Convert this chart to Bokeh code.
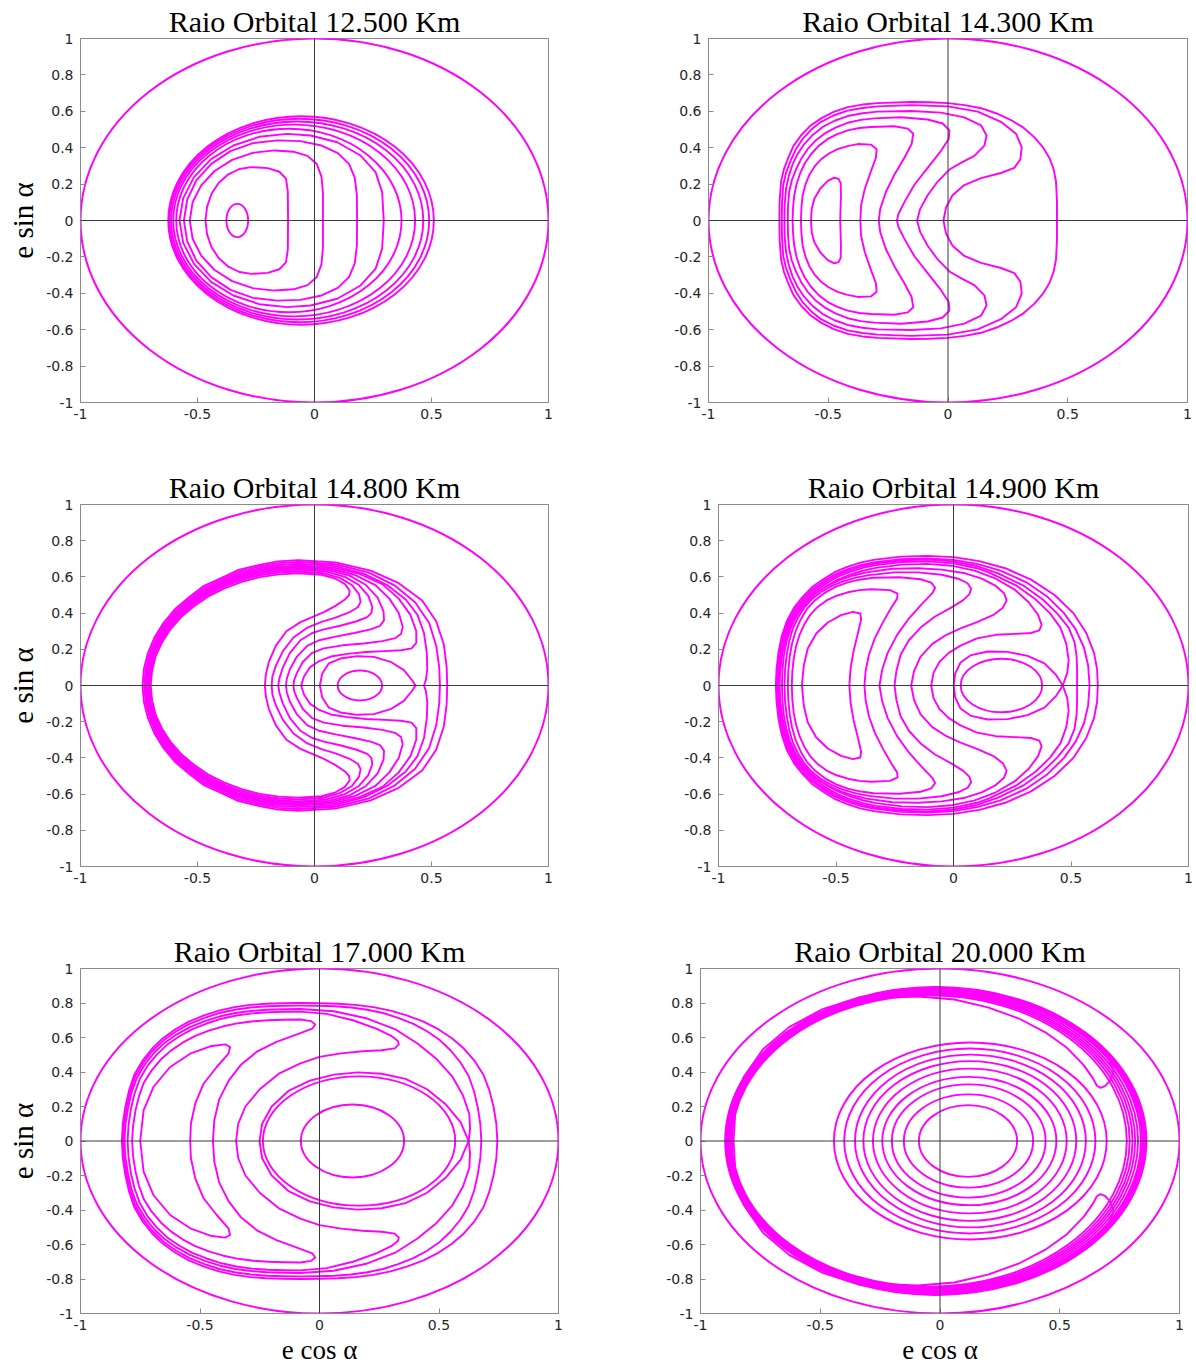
from bokeh.plotting import figure
from bokeh.layouts import column, row
from bokeh.models import Range1d, FixedTicker, Span
from bokeh.embed import file_html
from bokeh.resources import INLINE

# ---------------------------------------------------------------- texts / ticks
TITLES = ["Raio Orbital 12.500 Km", "Raio Orbital 14.300 Km",
          "Raio Orbital 14.800 Km", "Raio Orbital 14.900 Km",
          "Raio Orbital 17.000 Km", "Raio Orbital 20.000 Km"]
X_LABEL = "e cos \u03b1"
Y_LABEL = "e sin \u03b1"
X_TICKS = [-1, -0.5, 0, 0.5, 1]
X_TICK_LABELS = ["-1", "-0.5", "0", "0.5", "1"]
Y_TICKS = [-1, -0.8, -0.6, -0.4, -0.2, 0, 0.2, 0.4, 0.6, 0.8, 1]
Y_TICK_LABELS = ["-1", "-0.8", "-0.6", "-0.4", "-0.2", "0", "0.2", "0.4", "0.6", "0.8", "1"]

# boundary e = 1 (centre x, width, height)
BOUND_CX, BOUND_W, BOUND_H = [0.0], [2.0], [2.0]

# Each curve: upper half (e sin a >= 0), from the left
# crossing of e sin a = 0 to the right one; the curves are symmetric in e sin a.

# ---------------------------------------------------------------- 12.500 Km
P1_ELL_CX = [-0.33, -0.1095, -0.087, -0.074, -0.065, -0.0575]
P1_ELL_W = [0.093, 0.963, 1.034, 1.078, 1.110, 1.135]
P1_ELL_H = [0.183, 1.008, 1.054, 1.088, 1.118, 1.146]
P1_C2 = [(-0.466, 0.0), (-0.459, 0.076), (-0.44, 0.147), (-0.409, 0.207), (-0.368, 0.254),
         (-0.321, 0.283), (-0.27, 0.293), (-0.20, 0.288), (-0.15, 0.268), (-0.122, 0.23),
         (-0.114, 0.16), (-0.113, 0.0)]
P1_C3 = [(-0.533, 0.0), (-0.521, 0.100), (-0.484, 0.193), (-0.427, 0.272), (-0.352, 0.333),
         (-0.264, 0.372), (-0.17, 0.385), (-0.09, 0.378), (-0.03, 0.355), (0.01, 0.31),
         (0.03, 0.24), (0.036, 0.15), (0.036, 0.0)]
P1_C4 = [(-0.558, 0.0), (-0.544, 0.114), (-0.505, 0.22), (-0.441, 0.311), (-0.359, 0.381),
         (-0.263, 0.425), (-0.16, 0.44), (-0.06, 0.436), (0.03, 0.412), (0.10, 0.37),
         (0.148, 0.31), (0.172, 0.235), (0.181, 0.14), (0.182, 0.0)]
P1_C5 = [(-0.577, 0.0), (-0.561, 0.123), (-0.515, 0.238), (-0.442, 0.337), (-0.347, 0.412),
         (-0.236, 0.460), (-0.117, 0.476), (-0.017, 0.467), (0.097, 0.430), (0.197, 0.357),
         (0.261, 0.266), (0.289, 0.156), (0.296, 0.0)]
P1_CURVES = [P1_C2, P1_C3, P1_C4, P1_C5]

# ---------------------------------------------------------------- 14.300 Km
P2_ELL_CX, P2_ELL_W, P2_ELL_H = [], [], []
P2_K1 = [(-0.572, 0.0), (-0.569, 0.064), (-0.558, 0.120), (-0.533, 0.176), (-0.502, 0.218),
         (-0.475, 0.235), (-0.457, 0.229), (-0.448, 0.205), (-0.447, 0.139), (-0.450, 0.0)]
P2_K2 = [(-0.614, 0.0), (-0.612, 0.07), (-0.607, 0.139), (-0.595, 0.198), (-0.579, 0.251),
         (-0.557, 0.297), (-0.530, 0.336), (-0.497, 0.368), (-0.461, 0.392), (-0.42, 0.409),
         (-0.377, 0.420), (-0.322, 0.417), (-0.298, 0.392), (-0.301, 0.345), (-0.322, 0.270),
         (-0.347, 0.176), (-0.363, 0.083), (-0.366, 0.0)]
P2_K3 = [(-0.649, 0.0), (-0.647, 0.07), (-0.642, 0.139), (-0.632, 0.202), (-0.617, 0.261),
         (-0.597, 0.316), (-0.572, 0.364), (-0.54, 0.41), (-0.502, 0.448), (-0.462, 0.475),
         (-0.419, 0.495), (-0.37, 0.508), (-0.322, 0.514), (-0.224, 0.518), (-0.168, 0.505),
         (-0.145, 0.477), (-0.152, 0.420), (-0.182, 0.345), (-0.224, 0.251), (-0.259, 0.158),
         (-0.283, 0.064), (-0.289, 0.0)]
P2_K4 = [(-0.669, 0.0), (-0.668, 0.079), (-0.663, 0.158), (-0.652, 0.221), (-0.635, 0.280),
         (-0.613, 0.339), (-0.586, 0.392), (-0.554, 0.438), (-0.516, 0.477), (-0.47, 0.51),
         (-0.419, 0.537), (-0.364, 0.553), (-0.308, 0.561), (-0.196, 0.567), (-0.085, 0.555),
         (-0.022, 0.533), (0.006, 0.495), (0.003, 0.448), (-0.029, 0.383), (-0.085, 0.289),
         (-0.141, 0.195), (-0.182, 0.101), (-0.207, 0.036), (-0.213, 0.0)]
P2_K5 = [(-0.683, 0.0), (-0.682, 0.088), (-0.676, 0.176), (-0.665, 0.244), (-0.649, 0.308),
         (-0.627, 0.367), (-0.600, 0.420), (-0.565, 0.47), (-0.523, 0.514), (-0.474, 0.548),
         (-0.419, 0.574), (-0.357, 0.589), (-0.294, 0.598), (-0.154, 0.602), (-0.029, 0.593),
         (0.068, 0.567), (0.138, 0.523), (0.161, 0.467), (0.152, 0.411), (0.110, 0.355),
         (0.054, 0.317), (0.006, 0.280), (-0.043, 0.214), (-0.085, 0.139), (-0.116, 0.064),
         (-0.129, 0.0)]
P2_K6 = [(-0.694, 0.0), (-0.693, 0.098), (-0.688, 0.195), (-0.676, 0.263), (-0.658, 0.326),
         (-0.636, 0.39), (-0.607, 0.448), (-0.572, 0.498), (-0.530, 0.542), (-0.478, 0.577),
         (-0.419, 0.604), (-0.357, 0.618), (-0.294, 0.627), (-0.154, 0.634), (-0.001, 0.627),
         (0.124, 0.598), (0.221, 0.542), (0.284, 0.477), (0.308, 0.402), (0.302, 0.336),
         (0.277, 0.289), (0.221, 0.261), (0.138, 0.233), (0.068, 0.195), (0.019, 0.139),
         (-0.008, 0.073), (-0.019, 0.0)]
P2_K7 = [(-0.704, 0.0), (-0.703, 0.107), (-0.697, 0.214), (-0.685, 0.282), (-0.667, 0.345),
         (-0.645, 0.41), (-0.614, 0.467), (-0.576, 0.519), (-0.530, 0.561), (-0.477, 0.597),
         (-0.419, 0.623), (-0.357, 0.637), (-0.294, 0.645), (-0.154, 0.651), (-0.077, 0.65),
         (-0.001, 0.645), (0.07, 0.634), (0.138, 0.617), (0.203, 0.588), (0.263, 0.552),
         (0.315, 0.51), (0.360, 0.458), (0.395, 0.405), (0.423, 0.345), (0.441, 0.282),
         (0.451, 0.214), (0.455, 0.107), (0.455, 0.0)]
P2_CURVES = [P2_K1, P2_K2, P2_K3, P2_K4, P2_K5, P2_K6, P2_K7]

# ---------------------------------------------------------------- 14.800 Km
P3_ELL_CX, P3_ELL_W, P3_ELL_H = [0.194], [0.19], [0.165]
P3_A = [(-0.700, 0.0), (-0.694, 0.081), (-0.679, 0.161), (-0.652, 0.237), (-0.616, 0.310),
        (-0.570, 0.378), (-0.515, 0.438), (-0.454, 0.492), (-0.385, 0.537), (-0.311, 0.573),
        (-0.233, 0.599), (-0.153, 0.614), (-0.07, 0.620), (0.03, 0.612), (0.09, 0.59),
        (0.13, 0.56), (0.15, 0.525), (0.148, 0.500), (0.13, 0.475), (0.09, 0.44),
        (0.04, 0.405), (0.0, 0.383), (-0.06, 0.35), (-0.12, 0.30), (-0.165, 0.22),
        (-0.195, 0.13), (-0.208, 0.06), (-0.212, 0.0)]
P3_B = [(-0.705, 0.0), (-0.699, 0.083), (-0.683, 0.163), (-0.657, 0.241), (-0.620, 0.315),
        (-0.574, 0.384), (-0.519, 0.445), (-0.457, 0.500), (-0.388, 0.546), (-0.313, 0.582),
        (-0.234, 0.609), (-0.153, 0.624), (-0.07, 0.630), (0.04, 0.620), (0.11, 0.593),
        (0.16, 0.555), (0.19, 0.505), (0.197, 0.462), (0.185, 0.432), (0.15, 0.405),
        (0.09, 0.375), (0.03, 0.352), (-0.03, 0.32), (-0.09, 0.265), (-0.135, 0.19),
        (-0.165, 0.11), (-0.18, 0.05), (-0.183, 0.0)]
P3_C = [(-0.708, 0.0), (-0.702, 0.084), (-0.686, 0.166), (-0.660, 0.245), (-0.623, 0.320),
        (-0.576, 0.390), (-0.521, 0.452), (-0.459, 0.508), (-0.389, 0.554), (-0.314, 0.591),
        (-0.235, 0.618), (-0.154, 0.634), (-0.07, 0.640), (0.05, 0.630), (0.13, 0.600),
        (0.19, 0.555), (0.23, 0.495), (0.247, 0.435), (0.243, 0.400), (0.225, 0.378),
        (0.18, 0.355), (0.11, 0.33), (0.04, 0.31), (-0.01, 0.29), (-0.06, 0.25),
        (-0.105, 0.18), (-0.135, 0.10), (-0.150, 0.04), (-0.155, 0.0)]
P3_D = [(-0.711, 0.0), (-0.705, 0.085), (-0.689, 0.168), (-0.662, 0.248), (-0.626, 0.324),
        (-0.578, 0.395), (-0.524, 0.458), (-0.460, 0.514), (-0.390, 0.561), (-0.316, 0.599),
        (-0.236, 0.626), (-0.154, 0.642), (-0.07, 0.648), (0.06, 0.638), (0.15, 0.607),
        (0.22, 0.555), (0.27, 0.485), (0.295, 0.41), (0.297, 0.36), (0.28, 0.33),
        (0.24, 0.31), (0.17, 0.29), (0.09, 0.27), (0.02, 0.25), (-0.03, 0.22),
        (-0.075, 0.16), (-0.105, 0.09), (-0.118, 0.04), (-0.122, 0.0)]
P3_E = [(-0.714, 0.0), (-0.708, 0.086), (-0.692, 0.170), (-0.665, 0.251), (-0.628, 0.328),
        (-0.581, 0.399), (-0.526, 0.463), (-0.462, 0.519), (-0.392, 0.567), (-0.317, 0.605),
        (-0.236, 0.633), (-0.154, 0.649), (-0.07, 0.655), (0.07, 0.645), (0.17, 0.612),
        (0.26, 0.555), (0.32, 0.48), (0.36, 0.40), (0.377, 0.325), (0.37, 0.285),
        (0.345, 0.262), (0.29, 0.245), (0.21, 0.232), (0.12, 0.222), (0.04, 0.205),
        (-0.01, 0.18), (-0.05, 0.13), (-0.075, 0.07), (-0.087, 0.03), (-0.090, 0.0)]
P3_F = [(-0.717, 0.0), (-0.711, 0.087), (-0.695, 0.171), (-0.668, 0.254), (-0.631, 0.331),
        (-0.583, 0.403), (-0.528, 0.468), (-0.464, 0.525), (-0.393, 0.573), (-0.318, 0.612),
        (-0.236, 0.639), (-0.155, 0.656), (-0.07, 0.662), (0.08, 0.652), (0.19, 0.618),
        (0.29, 0.56), (0.36, 0.48), (0.41, 0.39), (0.435, 0.30), (0.435, 0.235),
        (0.415, 0.205), (0.37, 0.195), (0.30, 0.19), (0.22, 0.185), (0.14, 0.175),
        (0.07, 0.16), (0.02, 0.135), (-0.02, 0.10), (-0.045, 0.05), (-0.057, 0.0)]
P3_EYE = [(0.023, 0.0), (0.033, 0.066), (0.061, 0.122), (0.111, 0.149), (0.182, 0.162),
          (0.254, 0.158), (0.325, 0.131), (0.382, 0.085), (0.417, 0.029), (0.432, 0.0)]
P3_B1 = [(-0.722, 0.0), (-0.716, 0.088), (-0.700, 0.174), (-0.672, 0.257), (-0.636, 0.336),
         (-0.587, 0.409), (-0.528, 0.475), (-0.467, 0.533), (-0.386, 0.582), (-0.320, 0.621),
         (-0.23, 0.649), (-0.155, 0.666), (-0.07, 0.672), (0.08, 0.662), (0.21, 0.618),
         (0.31, 0.555), (0.39, 0.475), (0.44, 0.39), (0.468, 0.29), (0.480, 0.18),
         (0.482, 0.09), (0.476, 0.03), (0.468, 0.0)]
P3_B2 = [(-0.728, 0.0), (-0.722, 0.089), (-0.705, 0.177), (-0.678, 0.261), (-0.640, 0.341),
         (-0.592, 0.415), (-0.531, 0.482), (-0.471, 0.541), (-0.388, 0.591), (-0.322, 0.630),
         (-0.23, 0.659), (-0.156, 0.676), (-0.07, 0.682), (0.09, 0.670), (0.23, 0.625),
         (0.34, 0.555), (0.43, 0.46), (0.49, 0.345), (0.52, 0.22), (0.533, 0.10), (0.536, 0.0)]
P3_B3 = [(-0.735, 0.0), (-0.729, 0.091), (-0.712, 0.179), (-0.684, 0.265), (-0.645, 0.346),
         (-0.597, 0.421), (-0.535, 0.489), (-0.475, 0.549), (-0.39, 0.599), (-0.325, 0.639),
         (-0.23, 0.668), (-0.157, 0.686), (-0.07, 0.692), (0.09, 0.680), (0.24, 0.635),
         (0.36, 0.565), (0.46, 0.47), (0.52, 0.355), (0.553, 0.225), (0.565, 0.10), (0.567, 0.0)]
P3_CURVES = [P3_A, P3_B, P3_C, P3_D, P3_E, P3_F, P3_EYE, P3_B1, P3_B2, P3_B3]

# ---------------------------------------------------------------- 14.900 Km
P4_ELL_CX, P4_ELL_W, P4_ELL_H = [0.204], [0.347], [0.296]
P4_K1 = [(-0.645, 0.0), (-0.637, 0.112), (-0.620, 0.204), (-0.584, 0.287), (-0.535, 0.348),
         (-0.478, 0.389), (-0.428, 0.407), (-0.397, 0.398), (-0.393, 0.366), (-0.407, 0.287),
         (-0.426, 0.186), (-0.438, 0.094), (-0.443, 0.0)]
P4_K2 = [(-0.688, 0.0), (-0.686, 0.075), (-0.680, 0.15), (-0.670, 0.217), (-0.655, 0.28),
         (-0.635, 0.338), (-0.61, 0.39), (-0.578, 0.434), (-0.54, 0.47), (-0.497, 0.496),
         (-0.45, 0.515), (-0.40, 0.527), (-0.35, 0.532), (-0.27, 0.527), (-0.238, 0.508),
         (-0.240, 0.48), (-0.265, 0.43), (-0.30, 0.35), (-0.335, 0.26), (-0.36, 0.17),
         (-0.374, 0.08), (-0.379, 0.0)]
P4_K3 = [(-0.705, 0.0), (-0.703, 0.08), (-0.697, 0.16), (-0.687, 0.232), (-0.672, 0.30),
         (-0.651, 0.363), (-0.625, 0.42), (-0.59, 0.47), (-0.55, 0.51), (-0.502, 0.545),
         (-0.45, 0.57), (-0.395, 0.586), (-0.34, 0.595), (-0.23, 0.598), (-0.14, 0.587),
         (-0.095, 0.568), (-0.078, 0.54), (-0.09, 0.51), (-0.135, 0.45), (-0.19, 0.37),
         (-0.24, 0.28), (-0.28, 0.18), (-0.303, 0.09), (-0.315, 0.0)]
P4_K4 = [(-0.719, 0.0), (-0.717, 0.083), (-0.710, 0.165), (-0.700, 0.24), (-0.685, 0.31),
         (-0.663, 0.373), (-0.635, 0.43), (-0.603, 0.477), (-0.565, 0.515), (-0.52, 0.549),
         (-0.47, 0.575), (-0.416, 0.596), (-0.36, 0.61), (-0.25, 0.625), (-0.15, 0.625),
         (-0.05, 0.612), (0.02, 0.59), (0.06, 0.565), (0.075, 0.535), (0.068, 0.505),
         (0.04, 0.47), (-0.01, 0.43), (-0.08, 0.38), (-0.14, 0.32), (-0.19, 0.25),
         (-0.225, 0.17), (-0.243, 0.08), (-0.251, 0.0)]
P4_K5 = [(-0.730, 0.0), (-0.728, 0.083), (-0.722, 0.165), (-0.711, 0.24), (-0.695, 0.31),
         (-0.673, 0.373), (-0.645, 0.43), (-0.613, 0.48), (-0.575, 0.52), (-0.53, 0.556),
         (-0.48, 0.585), (-0.426, 0.608), (-0.37, 0.625), (-0.26, 0.645), (-0.15, 0.648),
         (-0.05, 0.64), (0.05, 0.62), (0.12, 0.59), (0.18, 0.55), (0.215, 0.51),
         (0.226, 0.47), (0.21, 0.43), (0.17, 0.39), (0.10, 0.35), (0.03, 0.315),
         (-0.03, 0.28), (-0.09, 0.23), (-0.14, 0.16), (-0.168, 0.08), (-0.180, 0.0)]
P4_K6 = [(-0.740, 0.0), (-0.737, 0.09), (-0.728, 0.18), (-0.713, 0.263), (-0.69, 0.34),
         (-0.661, 0.404), (-0.625, 0.46), (-0.586, 0.51), (-0.54, 0.55), (-0.492, 0.585),
         (-0.44, 0.612), (-0.386, 0.634), (-0.33, 0.65), (-0.22, 0.668), (-0.11, 0.672),
         (-0.01, 0.662), (0.09, 0.635), (0.18, 0.59), (0.26, 0.53), (0.32, 0.46),
         (0.36, 0.39), (0.375, 0.335), (0.365, 0.305), (0.33, 0.29), (0.26, 0.285),
         (0.18, 0.28), (0.10, 0.26), (0.03, 0.22), (-0.02, 0.18), (-0.06, 0.13),
         (-0.085, 0.07), (-0.095, 0.0)]
P4_EYE = [(0.001, 0.0), (0.007, 0.066), (0.030, 0.127), (0.075, 0.168), (0.146, 0.188),
          (0.230, 0.186), (0.315, 0.164), (0.387, 0.122), (0.437, 0.057), (0.465, 0.0)]
P4_S7 = [(-0.745, 0.0), (-0.742, 0.09), (-0.733, 0.18), (-0.718, 0.265), (-0.695, 0.345),
         (-0.665, 0.412), (-0.628, 0.47), (-0.587, 0.522), (-0.54, 0.565), (-0.492, 0.601),
         (-0.44, 0.628), (-0.386, 0.65), (-0.33, 0.665), (-0.22, 0.682), (-0.11, 0.686),
         (0.0, 0.675), (0.10, 0.648), (0.15, 0.625), (0.27, 0.55), (0.35, 0.475),
         (0.41, 0.40), (0.455, 0.32), (0.48, 0.23), (0.49, 0.14), (0.484, 0.07), (0.465, 0.0)]
P4_V = [(-0.748, 0.0), (-0.745, 0.09), (-0.737, 0.18), (-0.723, 0.268), (-0.70, 0.35),
        (-0.670, 0.418), (-0.632, 0.477), (-0.592, 0.53), (-0.545, 0.572), (-0.497, 0.608),
        (-0.445, 0.636), (-0.391, 0.658), (-0.335, 0.674), (-0.22, 0.692), (-0.11, 0.696),
        (0.0, 0.685), (0.10, 0.66), (0.19, 0.62), (0.30, 0.55), (0.38, 0.475),
        (0.44, 0.40), (0.49, 0.32), (0.515, 0.24), (0.524, 0.16), (0.526, 0.08), (0.526, 0.0)]
P4_B2 = [(-0.752, 0.0), (-0.749, 0.09), (-0.741, 0.18), (-0.727, 0.269), (-0.705, 0.352),
         (-0.675, 0.422), (-0.638, 0.482), (-0.598, 0.535), (-0.55, 0.578), (-0.502, 0.615),
         (-0.45, 0.643), (-0.396, 0.665), (-0.34, 0.68), (-0.225, 0.698), (-0.11, 0.702),
         (0.0, 0.694), (0.10, 0.672), (0.20, 0.635), (0.31, 0.57), (0.40, 0.49),
         (0.47, 0.40), (0.52, 0.31), (0.555, 0.21), (0.573, 0.11), (0.579, 0.0)]
P4_B3 = [(-0.756, 0.0), (-0.753, 0.091), (-0.745, 0.182), (-0.731, 0.272), (-0.709, 0.357),
         (-0.679, 0.429), (-0.642, 0.49), (-0.602, 0.544), (-0.553, 0.588), (-0.506, 0.626),
         (-0.452, 0.655), (-0.397, 0.679), (-0.34, 0.694), (-0.225, 0.712), (-0.11, 0.716),
         (0.0, 0.709), (0.11, 0.687), (0.22, 0.648), (0.33, 0.585), (0.43, 0.50),
         (0.51, 0.40), (0.565, 0.29), (0.598, 0.18), (0.611, 0.09), (0.614, 0.0)]
P4_CURVES = [P4_K1, P4_K2, P4_K3, P4_K4, P4_K5, P4_K6, P4_EYE, P4_S7, P4_V, P4_B2, P4_B3]

# ---------------------------------------------------------------- 17.000 Km
P5_ELL_CX, P5_ELL_W, P5_ELL_H = [0.138, 0.1655], [0.432, 0.805], [0.424, 0.75]
P5_C1 = [(-0.750, 0.0), (-0.736, 0.178), (-0.695, 0.313), (-0.625, 0.429), (-0.541, 0.506),
         (-0.457, 0.549), (-0.395, 0.560), (-0.374, 0.545), (-0.381, 0.506), (-0.430, 0.429),
         (-0.485, 0.332), (-0.520, 0.216), (-0.538, 0.100), (-0.541, 0.0)]
P5_C2 = [(-0.784, 0.0), (-0.780, 0.088), (-0.770, 0.176), (-0.756, 0.257), (-0.735, 0.338),
         (-0.703, 0.408), (-0.664, 0.472), (-0.622, 0.524), (-0.573, 0.570), (-0.520, 0.609),
         (-0.460, 0.641), (-0.402, 0.665), (-0.340, 0.683), (-0.277, 0.694), (-0.214, 0.700),
         (-0.147, 0.703), (-0.08, 0.704), (-0.035, 0.695), (-0.018, 0.675), (-0.03, 0.652),
         (-0.10, 0.615), (-0.18, 0.575), (-0.26, 0.52), (-0.33, 0.44), (-0.38, 0.35),
         (-0.42, 0.24), (-0.44, 0.12), (-0.446, 0.0)]
P5_C3 = [(-0.803, 0.0), (-0.799, 0.094), (-0.789, 0.1875), (-0.774, 0.274), (-0.752, 0.36),
         (-0.720, 0.435), (-0.680, 0.5025), (-0.637, 0.559), (-0.586, 0.6075), (-0.532, 0.649),
         (-0.470, 0.6825), (-0.410, 0.709), (-0.348, 0.7275), (-0.282, 0.740), (-0.217, 0.746),
         (-0.149, 0.749), (-0.08, 0.75), (0.03, 0.737), (0.14, 0.70), (0.24, 0.65),
         (0.30, 0.61), (0.328, 0.58), (0.332, 0.56), (0.315, 0.537), (0.26, 0.526),
         (0.18, 0.52), (0.09, 0.508), (0.0, 0.488), (-0.08, 0.45), (-0.17, 0.39),
         (-0.25, 0.30), (-0.31, 0.20), (-0.34, 0.10), (-0.349, 0.0)]
P5_EYE = [(-0.251, 0.0), (-0.24, 0.1), (-0.20, 0.20), (-0.13, 0.29), (-0.04, 0.35),
          (0.06, 0.385), (0.16, 0.398), (0.26, 0.39), (0.36, 0.36), (0.45, 0.30),
          (0.53, 0.21), (0.59, 0.11), (0.624, 0.0)]
P5_XOUT = [(-0.816, 0.0), (-0.812, 0.096), (-0.801, 0.191), (-0.787, 0.279), (-0.764, 0.367),
           (-0.731, 0.444), (-0.691, 0.513), (-0.647, 0.570), (-0.595, 0.620), (-0.540, 0.662),
           (-0.477, 0.696), (-0.416, 0.723), (-0.352, 0.742), (-0.286, 0.754), (-0.220, 0.761),
           (-0.150, 0.764), (-0.08, 0.765), (0.06, 0.752), (0.20, 0.71), (0.32, 0.645),
           (0.41, 0.565), (0.49, 0.475), (0.555, 0.375), (0.60, 0.265), (0.627, 0.155),
           (0.630, 0.07), (0.624, 0.0)]
P5_B2 = [(-0.822, 0.0), (-0.818, 0.098), (-0.807, 0.196), (-0.792, 0.287), (-0.770, 0.377),
         (-0.737, 0.455), (-0.696, 0.526), (-0.651, 0.585), (-0.599, 0.636), (-0.544, 0.679),
         (-0.481, 0.714), (-0.419, 0.742), (-0.355, 0.761), (-0.288, 0.774), (-0.221, 0.781),
         (-0.150, 0.784), (-0.08, 0.785), (-0.008, 0.784), (0.064, 0.781), (0.132, 0.774),
         (0.200, 0.761), (0.266, 0.742), (0.329, 0.714), (0.393, 0.679), (0.450, 0.636),
         (0.503, 0.585), (0.548, 0.526), (0.590, 0.455), (0.624, 0.377), (0.647, 0.287),
         (0.662, 0.196), (0.673, 0.098), (0.677, 0.0)]
P5_B3 = [(-0.827, 0.0), (-0.823, 0.10), (-0.812, 0.2), (-0.797, 0.292), (-0.775, 0.384),
         (-0.741, 0.464), (-0.700, 0.536), (-0.655, 0.596), (-0.603, 0.648), (-0.547, 0.692),
         (-0.483, 0.728), (-0.421, 0.756), (-0.356, 0.776), (-0.289, 0.789), (-0.222, 0.796),
         (-0.151, 0.799), (-0.08, 0.80), (-0.002, 0.799), (0.077, 0.796), (0.151, 0.789),
         (0.225, 0.776), (0.297, 0.756), (0.365, 0.728), (0.435, 0.692), (0.497, 0.648),
         (0.554, 0.596), (0.604, 0.536), (0.649, 0.464), (0.686, 0.384), (0.711, 0.292),
         (0.728, 0.2), (0.740, 0.10), (0.744, 0.0)]
P5_CURVES = [P5_C1, P5_C2, P5_C3, P5_EYE, P5_XOUT, P5_B2, P5_B3]

# ---------------------------------------------------------------- 20.000 Km
P6_ELL_CX = [0.117, 0.119, 0.12, 0.1225, 0.1245, 0.1245, 0.127, 0.1245, 0.1265,
             -0.0445, -0.0405, -0.0365, -0.033, -0.029, -0.025, -0.023, -0.0215, -0.019, -0.0175]
P6_ELL_W = [0.41, 0.54, 0.642, 0.727, 0.809, 0.889, 0.964, 1.049, 1.139,
            1.649, 1.665, 1.681, 1.696, 1.712, 1.728, 1.735, 1.743, 1.751, 1.759]
P6_ELL_H = [0.416, 0.54, 0.656, 0.744, 0.84, 0.926, 1.002, 1.072, 1.142,
            1.690, 1.704, 1.718, 1.730, 1.744, 1.758, 1.765, 1.772, 1.779, 1.786]
P6_LOBE = [(-0.884, 0.0), (-0.868, 0.19), (-0.82, 0.37), (-0.74, 0.53), (-0.63, 0.66),
           (-0.49, 0.765), (-0.33, 0.835), (-0.17, 0.870), (-0.03, 0.878), (0.12, 0.868),
           (0.27, 0.83), (0.41, 0.77), (0.53, 0.69), (0.63, 0.59), (0.70, 0.49),
           (0.725, 0.41), (0.71, 0.35), (0.69, 0.32), (0.67, 0.308), (0.655, 0.32),
           (0.64, 0.36), (0.60, 0.44), (0.53, 0.54), (0.44, 0.63), (0.33, 0.71),
           (0.20, 0.775), (0.06, 0.82), (-0.09, 0.838), (-0.24, 0.83), (-0.39, 0.79),
           (-0.53, 0.72), (-0.65, 0.62), (-0.75, 0.49), (-0.82, 0.33), (-0.855, 0.16),
           (-0.862, 0.0)]
P6_CURVES = [P6_LOBE]

PANELS = [
    (TITLES[0], P1_CURVES, P1_ELL_CX, P1_ELL_W, P1_ELL_H),
    (TITLES[1], P2_CURVES, P2_ELL_CX, P2_ELL_W, P2_ELL_H),
    (TITLES[2], P3_CURVES, P3_ELL_CX, P3_ELL_W, P3_ELL_H),
    (TITLES[3], P4_CURVES, P4_ELL_CX, P4_ELL_W, P4_ELL_H),
    (TITLES[4], P5_CURVES, P5_ELL_CX, P5_ELL_W, P5_ELL_H),
    (TITLES[5], P6_CURVES, P6_ELL_CX, P6_ELL_W, P6_ELL_H),
]

# ---------------------------------------------------------------- styling / layout
MAGENTA = "#ff00ff"
FRAME = "#8a8a8a"
TEXT = "#262626"
# frame_w, frame_h, border left, right, top, bottom
GEOM = [
    (468, 364, 80, 118, 38, 64), (479, 364, 42, 6, 38, 64),
    (468, 362, 80, 118, 38, 64), (470, 362, 52, 6, 38, 64),
    (478, 345, 80, 100, 38, 56), (479, 345, 42, 6, 38, 56),
]


def closed(upper):
    xs = [p[0] for p in upper] + [p[0] for p in reversed(upper[:-1])]
    ys = [p[1] for p in upper] + [-p[1] for p in reversed(upper[:-1])]
    return xs, ys


def make_panel(i):
    title, curves, ecx, ew, eh = PANELS[i]
    fw, fh, bl, br, bt, bb = GEOM[i]
    p = figure(frame_width=fw, frame_height=fh, min_border_left=bl, min_border_right=br,
               min_border_top=bt, min_border_bottom=bb,
               x_range=Range1d(-1, 1), y_range=Range1d(-1, 1), tools="",
               output_backend="svg", toolbar_location=None, title=title)
    p.title.text_font = "Liberation Serif"
    p.title.text_font_size = "30px"
    p.title.text_font_style = "normal"
    p.title.text_color = "black"
    p.title.align = "center"
    p.title.standoff = 2
    p.xgrid.visible = False
    p.ygrid.visible = False
    p.background_fill_color = "white"
    p.border_fill_color = "white"
    p.outline_line_color = FRAME
    p.outline_line_width = 1

    p.xaxis.ticker = FixedTicker(ticks=X_TICKS)
    p.yaxis.ticker = FixedTicker(ticks=Y_TICKS)
    p.xaxis.major_label_overrides = dict(zip(X_TICKS, X_TICK_LABELS))
    p.yaxis.major_label_overrides = dict(zip(Y_TICKS, Y_TICK_LABELS))
    for ax in (p.xaxis[0], p.yaxis[0]):
        ax.axis_line_color = FRAME
        ax.major_tick_line_color = FRAME
        ax.major_tick_in = 5
        ax.major_tick_out = 0
        ax.minor_tick_line_color = None
        ax.major_label_text_font = "DejaVu Sans"
        ax.major_label_text_font_size = "14px"
        ax.major_label_text_color = TEXT
        ax.axis_label_text_font = "Liberation Serif"
        ax.axis_label_text_font_style = "normal"
        ax.axis_label_text_font_size = "29px"
        ax.axis_label_text_color = "black"
    p.xaxis.major_label_standoff = 6
    p.yaxis.major_label_standoff = 7
    if i % 2 == 0:
        p.yaxis.axis_label = Y_LABEL
        p.yaxis.axis_label_standoff = 4
    if i >= 4:
        p.xaxis.axis_label = X_LABEL
        p.xaxis.axis_label_standoff = 2
        p.xaxis.axis_label_text_font_size = "27px"

    # e = 1 boundary
    p.ellipse(x=BOUND_CX, y=[0.0], width=BOUND_W, height=BOUND_H, fill_color=None,
              line_color=MAGENTA, line_width=2)
    if ecx:
        p.ellipse(x=ecx, y=[0.0] * len(ecx), width=ew, height=eh, fill_color=None,
                  line_color=MAGENTA, line_width=1.9)
    xs, ys = [], []
    for c in curves:
        cx, cy = closed(c)
        xs.append(cx)
        ys.append(cy)
    p.multi_line(xs=xs, ys=ys, line_color=MAGENTA, line_width=1.9, line_join="round")

    p.add_layout(Span(location=0, dimension="width", line_color="#3a3a3a", line_width=1))
    p.add_layout(Span(location=0, dimension="height", line_color="#3a3a3a", line_width=1))
    return p


figs = [make_panel(i) for i in range(6)]
layout = column(row(figs[0], figs[1]), row(figs[2], figs[3]), row(figs[4], figs[5]))
open("out.html", "w").write(file_html(layout, INLINE, "Raio Orbital"))
